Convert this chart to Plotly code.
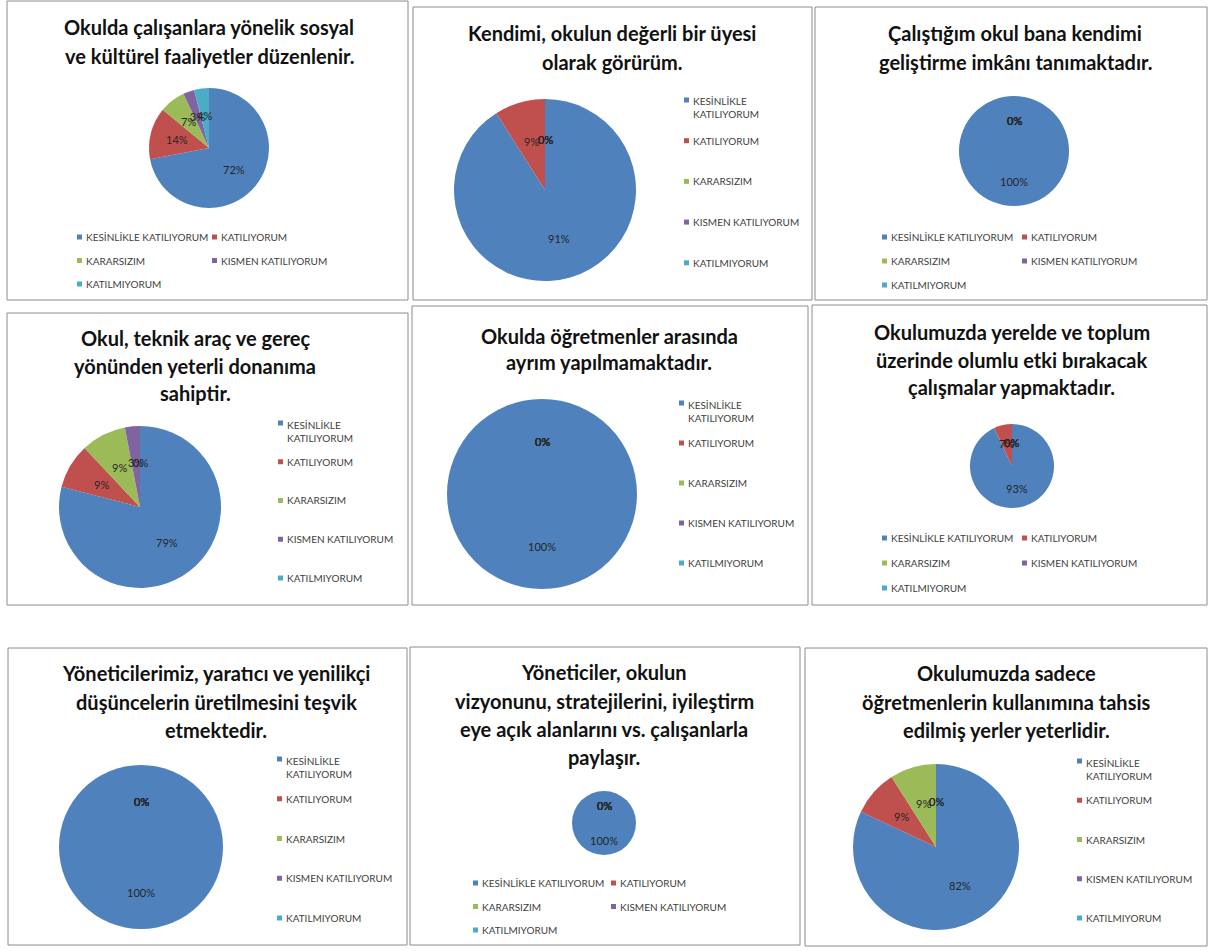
import math
import plotly.graph_objects as go

W, H = 1208, 951

# ---------------- data ----------------
categories = ["KESİNLİKLE KATILIYORUM", "KATILIYORUM", "KARARSIZIM",
              "KISMEN KATILIYORUM", "KATILMIYORUM"]
colors = ["#4F81BD", "#C0504D", "#9BBB59", "#8064A2", "#4BACC6"]

titles = [
    ["Okulda çalışanlara yönelik sosyal", "ve kültürel faaliyetler düzenlenir."],
    ["Kendimi, okulun değerli bir üyesi", "olarak görürüm."],
    ["Çalıştığım okul bana kendimi", "geliştirme imkânı tanımaktadır."],
    ["Okul, teknik araç ve gereç", "yönünden yeterli donanıma", "sahiptir."],
    ["Okulda öğretmenler arasında", "ayrım yapılmamaktadır."],
    ["Okulumuzda yerelde ve toplum", "üzerinde olumlu etki bırakacak", "çalışmalar yapmaktadır."],
    ["Yöneticilerimiz, yaratıcı ve yenilikçi", "düşüncelerin üretilmesini teşvik", "etmektedir."],
    ["Yöneticiler, okulun", "vizyonunu, stratejilerini, iyileştirm",
     "eye açık alanlarını vs. çalışanlarla", "paylaşır."],
    ["Okulumuzda sadece", "öğretmenlerin kullanımına tahsis", "edilmiş yerler yeterlidir."],
]

values_sosyal = [72, 14, 7, 3, 4]
values_uye = [91, 9, 0, 0, 0]
values_gelisim = [100, 0, 0, 0, 0]
values_donanim = [79, 9, 9, 3, 0]
values_ayrim = [100, 0, 0, 0, 0]
values_toplum = [93, 7, 0, 0, 0]
values_yenilik = [100, 0, 0, 0, 0]
values_vizyon = [100, 0, 0, 0, 0]
values_yerler = [82, 9, 9, 0, 0]

panel_values = [values_sosyal, values_uye, values_gelisim, values_donanim, values_ayrim,
                values_toplum, values_yenilik, values_vizyon, values_yerler]

# ---------------- layout spec (pixels) ----------------
panels = [
    dict(box=(7, 1, 408, 300), pie=(209, 148, 60), tx=209, ty=[27, 56],
         leg=dict(kind="bottom", x1=77, x2=212, y0=237, dy=23.5)),
    dict(box=(413, 7, 812, 300), pie=(545, 190, 91), tx=612, ty=[33, 62],
         leg=dict(kind="right", x=684, y0=100, dy=40.7)),
    dict(box=(815, 7, 1207, 300), pie=(1014, 151, 55), tx=1015, ty=[33, 62],
         leg=dict(kind="bottom", x1=882, x2=1022, y0=237, dy=24)),
    dict(box=(7, 313, 408, 605), pie=(140, 507, 81), tx=195, ty=[338, 366, 393],
         leg=dict(kind="right", x=278, y0=423, dy=38.75)),
    dict(box=(412, 306, 808, 605), pie=(542, 494, 95), tx=609, ty=[336, 362],
         leg=dict(kind="right", x=679, y0=403, dy=40)),
    dict(box=(812, 305, 1207, 605), pie=(1012, 466, 42), tx=1012, ty=[332, 360, 387],
         leg=dict(kind="bottom", x1=882, x2=1022, y0=538, dy=25)),
    dict(box=(8, 648, 407, 945), pie=(141, 847, 82), tx=216, ty=[673, 702, 730],
         leg=dict(kind="right", x=277, y0=759, dy=39.75)),
    dict(box=(410, 647, 800, 945), pie=(604, 823, 32), tx=604, ty=[672, 701, 729, 757],
         leg=dict(kind="bottom", x1=473, x2=611, y0=883, dy=23.5)),
    dict(box=(805, 648, 1207, 946), pie=(936, 847, 83), tx=1006, ty=[673, 702, 730],
         leg=dict(kind="right", x=1077, y0=761, dy=39.25)),
]

FONT = "Lato"
def px(x):
    return x / W

def py(y):
    return 1 - y / H

fig = go.Figure()
shapes = []
annotations = []

for vals, ttl, p in zip(panel_values, titles, panels):
    x0, y0, x1, y1 = p["box"]
    shapes.append(dict(type="rect", xref="paper", yref="paper",
                       x0=px(x0), x1=px(x1), y0=py(y1), y1=py(y0),
                       line=dict(color="#8C8C8C", width=1), fillcolor="rgba(0,0,0,0)"))
    cx, cy, r = p["pie"]
    fig.add_trace(go.Pie(
        labels=categories, values=vals, sort=False, direction="clockwise", rotation=0,
        marker=dict(colors=colors, line=dict(width=0)), textinfo="none",
        showlegend=False, hoverinfo="label+percent",
        domain=dict(x=[px(cx - r), px(cx + r)], y=[py(cy + r), py(cy - r)]),
    ))
    # percentage labels along the slice bisectors
    total = sum(vals)
    cum = 0
    for v in vals:
        th = 2 * math.pi * (cum + v / 2) / total
        cum += v
        lx = cx + 0.55 * r * math.sin(th)
        ly = cy - 0.55 * r * math.cos(th)
        annotations.append(dict(x=px(lx), y=py(ly), xref="paper", yref="paper",
                                text=f"{v}%", showarrow=False, xanchor="center",
                                yanchor="middle",
                                font=dict(family=FONT, size=11, color="#262626")))
    # title
    for line, ty in zip(ttl, p["ty"]):
        annotations.append(dict(x=px(p["tx"]), y=py(ty), xref="paper", yref="paper",
                                text=f"<b>{line}</b>", showarrow=False, xanchor="center",
                                yanchor="middle",
                                font=dict(family=FONT, size=20, color="#111111")))
    # legend
    lg = p["leg"]
    for i, (cat, col) in enumerate(zip(categories, colors)):
        if lg["kind"] == "bottom":
            sx = lg["x1"] if i % 2 == 0 else lg["x2"]
            sy = lg["y0"] + (i // 2) * lg["dy"]
            txt = cat
            tyc = sy
        else:
            sx = lg["x"]
            sy = lg["y0"] + i * lg["dy"] if i > 0 else lg["y0"]
            if i == 0:
                txt = cat.replace(" ", "<br>")
                tyc = sy + 8
            else:
                txt = cat
                tyc = sy
        shapes.append(dict(type="rect", xref="paper", yref="paper",
                           x0=px(sx), x1=px(sx + 5), y0=py(sy + 2.5), y1=py(sy - 2.5),
                           line=dict(width=0), fillcolor=col))
        annotations.append(dict(x=px(sx + 7), y=py(tyc), xref="paper", yref="paper",
                                text=txt, showarrow=False, xanchor="left", yanchor="middle",
                                align="left",
                                font=dict(family=FONT, size=10, color="#404040")))

fig.update_layout(
    width=W, height=H, margin=dict(l=0, r=0, t=0, b=0),
    paper_bgcolor="white", plot_bgcolor="white",
    shapes=shapes, annotations=annotations, showlegend=False,
)

fig.write_html("out.html", config={"displayModeBar": False},
               post_script="document.body.style.margin='0';document.body.style.overflow='hidden';")
